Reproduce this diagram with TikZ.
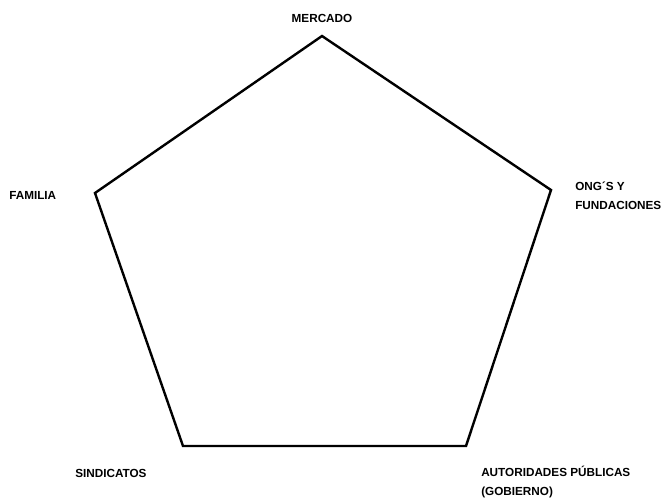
\documentclass[tikz,border=0pt]{standalone}
\usepackage{fontspec}
\setmainfont{Liberation Sans}
\usetikzlibrary{calc}
\tikzset{
  side/.style={draw=black, line width=1.8pt, line join=miter},
  actor/.style={font=\bfseries\fontsize{8.8}{14.2}\selectfont, inner sep=0pt,
    align=left, text=black}
}

\begin{document}
\begin{tikzpicture}[x=0.75pt, y=-0.75pt]
\useasboundingbox (0,0) rectangle (665,501);

%% ── Corners of the pentagon ────────────────────────────
\coordinate (top)    at (322, 36);
\coordinate (right)  at (551,190);
\coordinate (bright) at (466,446);
\coordinate (bleft)  at (183,446);
\coordinate (left)   at ( 95,193);

\draw[side] (top) -- (right) -- (bright) -- (bleft) -- (left) -- cycle;

%% ── Labels ─────────────────────────────────────────────
\node[actor]              (mercado)  at (322, 18) {MERCADO};
\node[actor, anchor=west] (familia)  at (  9,195) {FAMILIA};
\node[actor, anchor=west] (ong)      at (575,196) {ONG´S Y\\FUNDACIONES};
\node[actor, anchor=west] (sind)     at ( 75,473) {SINDICATOS};
\node[actor, anchor=west] (autorid)  at (481,482) {AUTORIDADES PÚBLICAS\\(GOBIERNO)};

\end{tikzpicture}
\end{document}
